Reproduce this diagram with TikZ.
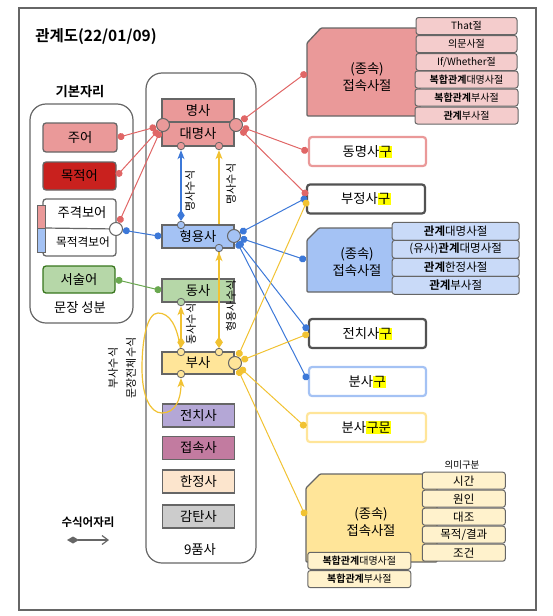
\documentclass[tikz,border=0pt]{standalone}
\usepackage{fontspec}
\setmainfont{Noto Sans CJK KR}[BoldFont={Noto Sans CJK KR Bold}]
\usetikzlibrary{arrows.meta,backgrounds}

\definecolor{boxline}{HTML}{666666}
\definecolor{redfill}{HTML}{EA9999}
\definecolor{darkred}{HTML}{C9211E}
\definecolor{redsub}{HTML}{F4CCCC}
\definecolor{bluefill}{HTML}{A4C2F4}
\definecolor{bluesub}{HTML}{C9DAF8}
\definecolor{greenfill}{HTML}{B6D7A8}
\definecolor{darkgreen}{HTML}{38761D}
\definecolor{yellowfill}{HTML}{FFE599}
\definecolor{yellowsub}{HTML}{FFF2CC}
\definecolor{purplefill}{HTML}{B4A7D6}
\definecolor{magentafill}{HTML}{C27BA0}
\definecolor{peachfill}{HTML}{FCE5CD}
\definecolor{grayfill}{HTML}{CCCCCC}
\definecolor{redline}{HTML}{E06666}
\definecolor{blueline}{HTML}{3C78D8}
\definecolor{greenline}{HTML}{6AA84F}
\definecolor{yellowline}{HTML}{F1C232}
\definecolor{hlyellow}{HTML}{FFFF00}

\newcommand{\hlgu}[1]{{\setlength{\fboxsep}{0.5pt}\colorbox{hlyellow}{#1}}}

\tikzset{
  txt/.style={inner sep=0pt, font=\fontsize{13.3}{16.5}\selectfont},
  pumsa/.style={txt, draw=boxline, line width=1.3pt, minimum width=72pt, minimum height=23pt},
  seongbun/.style={pumsa, rounded corners=3pt},
  gu/.style={txt, draw, line width=2.2pt, rounded corners=3pt, fill=white, minimum width=117pt, minimum height=29pt},
  sub/.style={draw=boxline, line width=1pt, rounded corners=2.5pt, minimum height=17pt, inner sep=0pt, font=\fontsize{10}{12}\selectfont},
  port/.style={circle, draw=boxline, line width=1pt, minimum size=13pt, inner sep=0pt},
  sport/.style={circle, draw=boxline, line width=0.8pt, minimum size=7.5pt, inner sep=0pt},
  group/.style={draw=boxline, line width=1.2pt, rounded corners=16pt},
  clause/.style={draw=boxline, line width=1.3pt, rounded corners=1pt},
  link/.style={line width=1pt, {Circle[length=7pt]}-{Circle[length=7pt]}},
  suspos/.style={line width=1.2pt, {Diamond[length=11pt,width=7.5pt]}-{Stealth[length=9pt,width=7pt,inset=2.5pt]}},
  vlabel/.style={rotate=90, inner sep=0pt, font=\fontsize{11}{13}\selectfont}
}

\begin{document}
\begin{tikzpicture}[x=1pt, y=-1pt]
\useasboundingbox (0,0) rectangle (552,616);
\draw[boxline, line width=2.5pt] (19,8) rectangle (536,610);
\node[font=\bfseries\fontsize{15.5}{18}\selectfont] (title) at (96,37) {관계도(22/01/09)};

\node[txt, font=\bfseries\fontsize{13.3}{16}\selectfont] (gibon-t) at (80,92) {기본자리};
\node[group, minimum width=103pt, minimum height=219pt] (gibon) at (81.5,213.5) {};
\node[seongbun, fill=redfill, minimum width=74pt, minimum height=29pt] (juo) at (80,137.5) {주어};
\node[seongbun, fill=darkred, minimum width=73pt, minimum height=28pt] (mokjeok) at (79.5,176) {목적어};
\node[seongbun, fill=white, minimum width=73pt, minimum height=57pt] (boeo) at (79.5,227.5) {};
\filldraw[boxline, line width=1pt, fill=redfill] (37,205) rectangle (45,228);
\filldraw[boxline, line width=1pt, fill=bluefill] (37,228) rectangle (45,252);
\node[port, fill=white] (bo-c) at (116,229) {};
\coordinate (boeo-div) at (45,228);
\draw[boxline, line width=1.2pt] (boeo-div) -- (bo-c);
\node[txt] (jugyeok) at (82,213) {주격보어};
\node[txt, font=\fontsize{11.7}{14}\selectfont] (mokjeokgyeok) at (83,242) {목적격보어};
\node[seongbun, fill=greenfill, draw=darkgreen, minimum width=72pt, minimum height=27pt] (seosul) at (79,279.5) {서술어};
\node[txt] (munjang) at (80,308) {문장 성분};

\node[group, minimum width=110pt, minimum height=490pt] (pumsa) at (201,318) {};
\node[pumsa, fill=redfill] (myeong) at (198,110.5) {명사};
\node[pumsa, fill=redfill, minimum height=24pt] (daemyeong) at (198,134) {대명사};
\node[pumsa, fill=bluefill] (hyeong) at (198,236.5) {형용사};
\node[pumsa, fill=greenfill] (dongsa) at (198,290.5) {동사};
\node[pumsa, fill=yellowfill, minimum height=22pt] (busa) at (198,363) {부사};
\foreach \n/\t/\c/\y in {jeonchi/전치사/purplefill/415.5, jeopsok/접속사/magentafill/448, hanjeong/한정사/peachfill/481.5, gamtan/감탄사/grayfill/516.5}
  \node[pumsa, fill=\c] (\n) at (198.5,\y) {\t};
\node[txt] (pumsa-t) at (200,550) {9품사};

\node[port, fill=redfill] (myeong-l) at (163,125) {};
\node[port, fill=redfill] (myeong-r) at (236,125) {};
\node[sport, fill=redfill] (daemyeong-b1) at (181,146) {};
\node[sport, fill=redfill] (daemyeong-b2) at (219,146) {};
\node[sport, fill=bluefill] (hyeong-t) at (181,225) {};
\node[sport, fill=bluefill] (hyeong-b) at (219,248) {};
\node[port, fill=bluefill] (hyeong-r) at (234,236) {};
\node[sport, fill=greenfill] (dongsa-b) at (181,302) {};
\node[sport, fill=yellowfill] (busa-t1) at (181,352) {};
\node[sport, fill=yellowfill] (busa-t2) at (219,352) {};
\node[sport, fill=yellowfill] (busa-b) at (181,374) {};
\node[port, fill=yellowfill] (busa-r) at (235,363) {};

\node[vlabel] (l-myeong1) at (190,191) {명사수식};
\node[vlabel] (l-myeong2) at (231,184) {명사수식};
\node[vlabel] (l-dongsa) at (191,324) {동사수식};
\node[vlabel] (l-hyeong) at (231,306) {형용사수식};
\node[vlabel] (l-busa) at (113,368) {부사수식};
\node[vlabel] (l-munjang) at (131,368) {문장전체수식};

\draw[clause, fill=redfill] (307,43) -- (321,28) -- (420,28) -- (420,116) -- (307,116) -- cycle;
\node[txt, align=center] (redcl) at (367,77) {(종속)\\접속사절};
\coordinate (redcl-in) at (306.5,72.5);
\foreach \t [count=\i] in {That절, 의문사절, If/Whether절}
  \node[sub, fill=redsub, minimum width=101pt] (redsub\i) at (466.5,8+18*\i) {\t};
\foreach \b/\t [count=\i] in {복합관계/대명사절, 복합관계/부사절, 관계/부사절}
  \node[sub, fill=redsub, minimum width=103pt] (redsubb\i) at (466.5,61.5+18*\i) {\textbf{\b}\t};

\node[gu, draw=redfill] (dongmyeong) at (367.5,151.5) {동명사\hlgu{구}};
\node[gu, draw=boxline!80!black, minimum width=118pt] (bujeong) at (366,199) {부정사\hlgu{구}};
\coordinate (bujeong-r) at (307.5,195.5);
\coordinate (bujeong-b) at (307,197.5);
\coordinate (bujeong-y) at (307.5,200);

\draw[clause, fill=bluefill] (307,240) -- (319,228) -- (400,228) -- (400,292) -- (307,292) -- cycle;
\node[txt, align=center] (bluecl) at (357,262) {(종속)\\접속사절};
\coordinate (bluecl-in) at (306,260);
\foreach \a/\b/\c [count=\i] in {{}/관계/대명사절, (유사)/관계/대명사절, {}/관계/한정사절, {}/관계/부사절}
  \node[sub, fill=bluesub, minimum width=127pt, minimum height=18pt, font=\fontsize{11.5}{13}\selectfont] (bluesub\i) at (455.7,213.3+18*\i) {\a\textbf{\b}\c};

\node[gu, draw=boxline!80!black] (jeonchigu) at (367.5,333.5) {전치사\hlgu{구}};
\coordinate (jeonchigu-b) at (308,330.5);
\coordinate (jeonchigu-y) at (309,333.5);
\node[gu, draw=bluefill] (bunsagu) at (367.5,381.5) {분사\hlgu{구}};
\coordinate (bunsagu-in) at (307.5,380);
\node[gu, draw=yellowfill, minimum width=119pt] (bunsagumun) at (366.5,427.5) {분사\hlgu{구문}};

\draw[clause, fill=yellowfill] (306,488) -- (320,474) -- (437,474) -- (437,562) -- (306,562) -- cycle;
\node[txt, align=center] (yellowcl) at (371,522) {(종속)\\접속사절};
\coordinate (yellowcl-in) at (305.5,516);
\node[inner sep=0pt, font=\fontsize{9.5}{11}\selectfont] (uimi) at (462,465) {의미구분};
\foreach \t [count=\i] in {시간, 원인, 대조, 목적/결과, 조건}
  \node[sub, fill=yellowsub, minimum width=83pt, font=\fontsize{11.5}{13}\selectfont] (yellowsub\i) at (463.8,462.7+18*\i) {\t};
\foreach \t [count=\i] in {대명사절, 부사절}
  \node[sub, fill=yellowsub, minimum width=103pt] (yellowsubb\i) at (359.3,542.5+18.3*\i) {\textbf{복합관계}\t};

\draw[link, redline] (juo.east) -- (myeong-l);
\draw[link, redline] (mokjeok.east) -- (myeong-l);
\draw[link, redline] (bo-c) -- (myeong-l);
\draw[link, redline] (myeong-r) -- (redcl-in);
\draw[link, redline] (myeong-r) -- (dongmyeong.west);
\draw[link, redline] (myeong-r) -- (bujeong-r);

\draw[link, blueline] (bo-c) -- (hyeong.west);
\draw[link, blueline] (hyeong-r) -- (bujeong-b);
\draw[link, blueline] (hyeong-r) -- (bluecl-in);
\draw[link, blueline] (hyeong-r) -- (jeonchigu-b);
\draw[link, blueline] (hyeong-r) -- (bunsagu-in);
\draw[suspos, blueline] (hyeong-t) -- (daemyeong-b1);

\draw[link, greenline] (seosul.east) -- (dongsa.west);

\begin{pgfonlayer}{background}
\draw[suspos, yellowline] (busa-t2) -- (daemyeong-b2);
\end{pgfonlayer}
\draw[suspos, yellowline] (busa-t2) -- (hyeong-b);
\draw[suspos, yellowline] (busa-t1) -- (dongsa-b);
\draw[yellowline, line width=1.2pt, -{Stealth[length=9pt,width=7pt,inset=2.5pt]}] (busa-t1) .. controls (177,326) and (170,313) .. (158,313) .. controls (147,313) and (142,340) .. (142,368) .. controls (142,396) and (150,413) .. (162,413) .. controls (175,413) and (181,400) .. (busa-b);
\draw[link, yellowline] (busa-r) -- (bujeong-y);
\draw[link, yellowline] (busa-r) -- (jeonchigu-y);
\draw[link, yellowline] (busa-r) -- (bunsagumun.west);
\draw[link, yellowline] (busa-r) -- (yellowcl-in);

\node[font=\bfseries\fontsize{11.5}{13}\selectfont] (legend) at (88,522) {수식어자리};
\coordinate (lg-a) at (67,540);
\coordinate (lg-b) at (109,540);
\draw[boxline, line width=1.2pt, {Diamond[length=12pt,width=7pt]}-{Straight Barb[length=6pt,width=9pt]}] (lg-a) -- (lg-b);
\end{tikzpicture}
\end{document}
